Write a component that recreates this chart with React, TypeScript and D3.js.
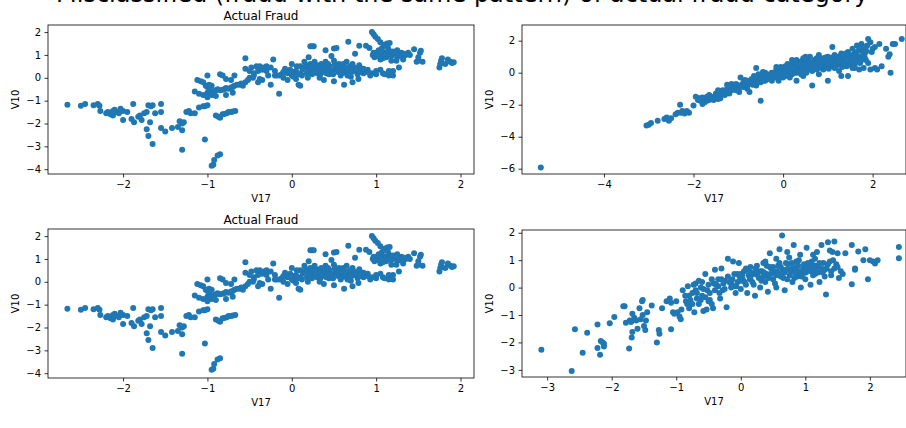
import React, { useEffect, useRef } from "react";
import * as d3 from "d3";

// Actual fraud cases (V17, V10), used in both left panels
const fraudPoints: [number, number][] = [
  [-2.66, -1.18], [-2.5, -1.22], [-2.45, -1.15], [-2.35, -1.2], [-2.3, -1.15], [-2.28, -1.22], [-2.27, -1.45],
  [-2.2, -1.55], [-2.15, -1.6], [-2.12, -1.45], [-2.1, -1.4], [-2.08, -1.5], [-2.05, -1.55], [-2.0, -1.45],
  [-2.03, -1.35], [-2.18, -1.5], [-2.12, -1.65], [-2.0, -1.85], [-1.95, -1.5], [-1.9, -1.8], [-1.88, -1.15],
  [-1.87, -1.95], [-1.82, -1.7], [-1.8, -1.65], [-1.78, -1.85], [-1.75, -1.55], [-1.72, -1.5], [-1.7, -1.2],
  [-1.67, -1.25], [-1.65, -1.2], [-1.62, -1.55], [-1.68, -1.95], [-1.72, -2.25], [-1.7, -2.55], [-1.65, -2.9],
  [-1.55, -1.15], [-1.55, -1.5], [-1.55, -2.2], [-1.5, -2.35], [-1.42, -2.2], [-1.35, -2.15], [-1.3, -2.0],
  [-1.33, -1.9], [-1.3, -2.3], [-1.3, -3.15], [-1.28, -1.95], [-1.25, -1.5], [-1.22, -1.45], [-1.2, -1.55],
  [-1.15, -1.55], [-1.1, -1.3], [-1.05, -1.25], [-1.03, -1.25], [-1.0, -1.2], [-1.03, -2.7],
  [-0.95, -3.85], [-0.93, -3.8], [-0.92, -3.6], [-0.88, -3.4], [-0.85, -3.35],
  [-0.9, -1.65], [-0.87, -1.7], [-0.85, -1.75], [-0.82, -1.6], [-0.8, -1.58], [-0.77, -1.55], [-0.75, -1.5],
  [-0.72, -1.5], [-0.7, -1.48], [-0.67, -1.45],
  [-1.15, -0.6], [-1.1, -0.7], [-1.05, -0.75], [-1.0, -0.65], [-0.98, -0.7], [-0.95, -0.62], [-0.92, -0.58],
  [-0.9, -0.55], [-0.88, -0.5], [-0.85, -0.55], [-0.82, -0.52], [-0.8, -0.5], [-0.78, -0.45], [-0.75, -0.48],
  [-0.72, -0.42], [-0.7, -0.4], [-0.68, -0.35], [-0.65, -0.3], [-0.62, -0.3], [-0.6, -0.25], [-0.58, -0.35],
  [-0.55, -0.2], [-1.12, -0.1], [-1.08, -0.15], [-1.05, -0.2], [-1.02, -0.35], [-1.0, -0.4], [-0.98, -0.45],
  [-0.95, -0.35], [-1.0, 0.1], [-0.98, -0.3], [-0.85, 0.15], [-0.82, 0.1], [-0.78, -0.05], [-0.72, -0.1],
  [-0.68, 0.1], [-0.7, -0.65], [-0.78, -0.75], [-0.9, -0.8], [-1.0, -0.85], [-0.95, -0.75],
  [-0.55, 0.85], [-0.55, 0.4], [-0.5, 0.3], [-0.48, 0.45], [-0.45, 0.2], [-0.42, 0.5], [-0.4, 0.3],
  [-0.38, 0.5], [-0.35, 0.35], [-0.33, 0.45], [-0.3, 0.3], [-0.3, 0.5], [-0.28, 0.1], [-0.35, -0.1],
  [-0.4, -0.2], [-0.45, 0.1], [-0.5, 0.0], [-0.52, -0.1], [-0.25, -0.3], [-0.22, 0.8], [-0.2, 0.1],
  [-0.18, 0.1], [-0.15, -0.7], [-0.12, 0.15], [-0.1, 0.0], [-0.08, 0.4], [-0.05, 0.2], [-0.05, -0.1],
  [0.0, 0.6], [0.02, 0.05], [0.05, -0.05], [0.05, 0.3], [0.07, 0.15], [0.08, -0.3], [0.1, 0.5], [0.1, -0.35],
  [0.12, 0.1], [0.15, 0.45], [0.15, 0.7], [0.18, 0.2], [0.2, 0.4], [0.2, 0.9], [0.22, 1.38], [0.24, 1.38],
  [0.26, 1.38], [0.22, 0.6], [0.25, 0.3], [0.25, 0.5], [0.27, 0.7], [0.28, 0.4], [0.3, 0.2], [0.3, 0.55],
  [0.32, 0.35], [0.33, 0.0], [0.35, 0.45], [0.35, 0.6], [0.37, 0.3], [0.38, -0.1], [0.4, 0.7], [0.4, 1.2],
  [0.42, 0.4], [0.44, 0.15], [0.45, 0.5], [0.47, 0.95], [0.48, 0.3], [0.5, 0.75], [0.5, -0.15], [0.52, 0.45],
  [0.5, 1.28], [0.53, 1.3], [0.55, 0.25], [0.56, 0.6], [0.58, 0.1], [0.6, 0.35], [0.62, -0.3], [0.62, 0.5],
  [0.65, 0.7], [0.65, 0.2], [0.67, 1.58], [0.68, 0.4], [0.7, 0.05], [0.72, 0.6], [0.72, -0.2], [0.75, 0.3],
  [0.75, 1.05], [0.78, 0.15], [0.8, 0.55], [0.8, 1.4], [0.83, 0.4], [0.85, 0.2], [0.88, 1.4], [0.9, 0.35],
  [0.92, 1.3], [0.93, 0.1], [0.95, 2.0], [0.97, 1.9], [0.99, 1.8], [1.02, 1.7], [1.05, 1.55], [0.96, 1.0],
  [0.98, 0.9], [1.0, 1.1], [1.0, 0.3], [1.03, 1.2], [1.05, 0.8], [1.05, 1.0], [1.07, 1.3], [1.08, 0.2],
  [1.1, 1.1], [1.1, 1.45], [1.12, 0.9], [1.13, 1.5], [1.15, 1.2], [1.15, 0.1], [1.17, 1.0], [1.18, 0.75],
  [1.2, 1.15], [1.2, 0.3], [1.22, 1.05], [1.25, 0.9], [1.25, 1.2], [1.27, 0.45], [1.3, 1.1], [1.32, 0.8],
  [1.35, 1.0], [1.38, 1.1], [1.4, 1.0], [1.45, 1.25], [1.48, 0.7], [1.5, 0.75], [1.52, 1.1], [1.53, 1.18],
  [1.55, 0.7], [1.5, 0.9], [1.75, 0.45], [1.76, 0.6], [1.77, 0.75], [1.78, 0.85], [1.82, 0.6], [1.85, 0.8],
  [1.88, 0.7], [1.9, 0.65], [1.92, 0.68], [1.16, 1.52],
  [0.02, 0.25], [0.06, 0.5], [0.1, 0.2], [0.13, 0.35], [0.17, 0.55], [0.19, 0.0], [0.21, 0.25], [0.23, 0.45],
  [0.24, 0.15], [0.26, 0.55], [0.29, 0.3], [0.31, 0.45], [0.34, 0.15], [0.36, 0.25], [0.39, 0.5], [0.41, 0.2],
  [0.43, 0.6], [0.46, 0.35], [0.49, 0.15], [0.51, 0.6], [0.54, 0.35], [0.57, 0.45], [0.59, 0.2], [0.61, 0.6],
  [0.63, 0.3], [0.66, 0.1], [0.69, 0.5], [0.71, 0.25], [0.74, 0.45], [0.77, 0.35], [0.79, -0.05], [0.82, 0.25],
  [0.85, 0.4], [0.88, 0.3], [0.9, 0.25], [0.95, 0.2], [1.0, 0.15], [1.05, 0.35], [1.1, 0.15], [1.15, 0.3],
  [1.2, 0.1], [0.97, 1.1], [1.02, 0.95], [1.06, 1.15], [1.08, 0.85], [1.12, 1.05], [1.14, 1.3], [1.18, 0.95],
  [1.23, 1.1], [1.27, 1.0], [1.3, 0.95], [1.33, 1.05], [1.24, 0.75],
  [-0.2, 0.3], [-0.15, 0.1], [-0.1, 0.25], [-0.02, 0.35], [0.0, 0.1], [-0.25, 0.45], [-0.38, -0.05], [-0.46, 0.0],
];

// Top right panel
const upperRightPoints: [number, number][] = [
  [-5.41, -5.92],
  [-3.05, -3.3], [-3.0, -3.25], [-2.95, -3.15], [-2.8, -3.0], [-2.65, -2.9], [-2.6, -2.8], [-2.55, -3.0],
  [-2.5, -2.85], [-2.4, -2.6], [-2.35, -2.5], [-2.3, -2.0], [-2.28, -2.5], [-2.25, -2.4], [-2.2, -2.55],
  [-2.15, -2.4], [-2.1, -2.5], [-2.0, -2.05], [-1.95, -1.5], [-1.9, -1.6], [-1.85, -1.75], [-1.8, -1.55],
  [-1.8, -1.95], [-1.75, -1.85], [-1.7, -1.5], [-1.65, -1.7], [-1.6, -1.6], [-1.55, -1.7], [-1.5, -1.5],
  [-1.45, -1.65], [-1.4, -1.6], [-1.35, -1.3], [-1.3, -1.4], [-1.25, -1.25], [-1.2, -1.3], [-1.15, -0.7],
  [-1.1, -1.0], [-1.05, -0.9], [-1.0, -0.8], [-0.98, -1.2], [-0.95, -0.3], [-0.9, -0.7], [-0.85, -0.9],
  [-0.8, -1.0], [-0.8, -0.5], [-0.75, -1.2], [-0.7, -0.6], [-0.65, -0.4], [-0.6, -0.8], [-0.6, 0.3],
  [-0.55, -0.3], [-0.5, -1.75], [-0.5, -0.6], [-0.45, -0.2], [-0.4, 0.0], [-0.4, -0.5], [-0.35, -0.2],
  [-0.3, -0.4], [-0.25, 0.0], [-0.2, -0.3], [-0.15, 0.2], [-0.1, -0.1], [-0.1, -0.5], [-0.05, 0.1],
  [0.0, -0.3], [0.0, 0.3], [0.05, 0.4], [0.05, -0.2], [0.1, 0.0], [0.15, 0.5], [0.15, -0.3], [0.2, 0.2],
  [0.2, 0.8], [0.25, 0.0], [0.3, 0.5], [0.3, -0.5], [0.35, 0.3], [0.4, 0.7], [0.4, 0.1], [0.45, -0.2],
  [0.45, 0.9], [0.5, 0.4], [0.55, 0.6], [0.6, 0.2], [0.6, 1.0], [0.65, -0.8], [0.65, 0.5], [0.7, 0.8],
  [0.7, 0.3], [0.75, 0.6], [0.8, 1.1], [0.8, -0.1], [0.85, 0.5], [0.9, 0.9], [0.9, 0.2], [0.95, 0.7],
  [1.0, 1.0], [1.0, -0.5], [1.05, 0.4], [1.1, 0.8], [1.1, 1.6], [1.15, 0.3], [1.2, 1.0], [1.2, 0.6],
  [1.25, 0.1], [1.3, 1.2], [1.3, -0.2], [1.35, 0.7], [1.4, 1.0], [1.45, -0.2], [1.45, 1.3], [1.5, 0.5],
  [1.55, 1.5], [1.55, 0.9], [1.6, 0.3], [1.6, 1.2], [1.65, 1.7], [1.7, 0.9], [1.75, 1.8], [1.75, 1.4],
  [1.8, 0.3], [1.85, 0.8], [1.85, 1.3], [1.9, 2.1], [1.95, 1.9], [1.95, 0.2], [2.0, 1.5], [2.05, 1.6],
  [2.05, 0.3], [2.1, 0.2], [2.15, 1.8], [2.35, 1.0], [2.38, 1.15], [2.4, 0.0], [2.45, 1.8], [2.5, 1.8],
  [2.65, 2.1], [1.85, 1.4], [1.7, 0.2],
  [-1.9, -1.7], [-1.85, -1.6], [-1.75, -1.65], [-1.7, -1.75], [-1.6, -1.5], [-1.5, -1.3], [-1.45, -1.4],
  [-1.4, -1.2], [-1.35, -1.1], [-1.3, -1.2], [-1.25, -1.0], [-1.2, -0.9], [-1.15, -1.1], [-1.1, -0.8],
  [-1.05, -0.7], [-1.0, -1.0], [-0.95, -0.8], [-0.9, -0.9], [-0.88, -0.6], [-0.85, -0.7], [-0.8, -0.8],
  [-0.75, -0.5], [-0.7, -0.4], [-0.68, -0.75], [-0.65, -0.6], [-0.6, -0.5], [-0.55, -0.6], [-0.55, -0.1],
  [-0.5, -0.3], [-0.48, -0.4], [-0.45, -0.5], [-0.4, -0.3], [-0.38, -0.1], [-0.35, -0.4], [-0.3, -0.1],
  [-0.28, -0.25], [-0.25, -0.2], [-0.2, 0.0], [-0.18, -0.15], [-0.15, -0.3], [-0.1, 0.1], [-0.08, -0.05],
  [-0.05, -0.2], [0.0, 0.05], [0.02, -0.1], [0.05, 0.15], [0.08, 0.25], [0.1, 0.35], [0.12, -0.15],
  [0.15, 0.1], [0.18, 0.4], [0.2, -0.1], [0.22, 0.3], [0.25, 0.5], [0.28, 0.2], [0.3, 0.0], [0.32, 0.6],
  [0.35, 0.15], [0.38, 0.45], [0.4, -0.1], [0.42, 0.3], [0.45, 0.55], [0.48, 0.2], [0.5, 0.7], [0.52, 0.0],
  [0.55, 0.35], [0.58, 0.5], [0.6, 0.65], [0.62, 0.4], [0.65, 0.1], [0.68, 0.55], [0.7, 0.75], [0.72, 0.45],
  [0.75, 0.2], [0.78, 0.65], [0.8, 0.4], [0.82, 0.85], [0.85, 0.3], [0.88, 0.6], [0.9, 0.45], [0.92, 0.75],
  [0.95, 0.35], [0.98, 0.55], [1.0, 0.8], [1.02, 0.25], [1.05, 0.65], [1.08, 0.45], [1.1, 0.95], [1.12, 0.55],
  [1.15, 0.75], [1.18, 0.4], [1.2, 0.85], [1.22, 0.6], [1.25, 1.0], [1.28, 0.5], [1.3, 0.8], [1.32, 0.35],
  [1.35, 0.95], [1.38, 0.6], [1.4, 1.2], [1.42, 0.4], [1.48, 0.8], [1.5, 1.1], [1.52, 0.65], [1.58, 1.0],
  [1.62, 0.7], [1.65, 1.3], [1.68, 1.0], [1.72, 0.6], [1.78, 1.1], [1.8, 1.6], [1.82, 1.0], [1.88, 1.7],
  [1.9, 0.6], [1.98, 1.3], [2.2, 0.4], [2.3, 1.5],
  [0.25, 0.3], [0.35, 0.55], [0.45, 0.35], [0.55, 0.8], [0.65, 0.3], [0.75, 0.9], [0.85, 0.7], [0.95, 0.95],
  [1.05, 0.85], [1.15, 1.1], [1.25, 0.7], [1.35, 1.1], [1.45, 0.6], [1.55, 0.3], [1.6, 0.5], [1.7, 1.5],
  [1.75, 0.8], [0.1, 0.55], [-0.15, 0.35], [-0.25, -0.5], [-0.45, 0.05], [-0.65, -0.2], [-0.85, -0.45],
  [-1.05, -1.1], [-1.25, -0.75], [-1.45, -1.1], [-1.65, -1.4], [-0.05, 0.35], [0.3, 0.8], [0.5, 1.0],
];

// Bottom right panel
const lowerRightPoints: [number, number][] = [
  [-3.09, -2.27], [-2.62, -3.04], [-2.57, -1.52], [-2.45, -2.38], [-2.38, -1.65], [-2.22, -1.35], [-2.22, -2.2],
  [-2.18, -2.45], [-2.17, -1.95], [-2.14, -2.0], [-2.12, -2.15], [-2.12, -2.05], [-2.03, -1.3], [-1.96, -1.07],
  [-1.82, -0.68], [-1.8, -0.68], [-1.78, -1.28], [-1.73, -2.22], [-1.72, -1.2], [-1.7, -1.25], [-1.69, -1.82],
  [-1.68, -0.95], [-1.68, -1.62], [-1.65, -1.1], [-1.62, -1.2], [-1.6, -1.5], [-1.57, -0.75], [-1.55, -1.15],
  [-1.53, -0.5], [-1.52, -0.45], [-1.52, -1.0], [-1.5, -1.4], [-1.48, -1.55], [-1.47, -1.2], [-1.45, -0.9],
  [-1.38, -0.65], [-1.27, -1.55], [-1.26, -1.68], [-1.3, -2.0], [-1.22, -0.75], [-1.15, -0.5], [-1.1, -0.4],
  [-1.08, -0.55], [-1.08, -1.52], [-1.05, -0.9], [-1.03, -0.95], [-1.0, -0.5], [-0.98, -0.9], [-0.95, -1.05],
  [-0.93, -1.15], [-0.92, -0.8], [-0.9, -0.1], [-0.85, -0.5], [-0.83, -0.6], [-0.8, -0.3], [-0.8, -0.75],
  [-0.78, -0.45], [-0.75, -0.2], [-0.73, 0.1], [-0.72, -0.9], [-0.7, 0.15], [-0.68, -0.4], [-0.65, -0.6],
  [-0.62, 0.0], [-0.6, -0.3], [-0.58, -0.85], [-0.55, 0.5], [-0.53, -0.8], [-0.52, -0.1], [-0.5, -0.5],
  [-0.48, -0.2], [-0.45, 0.3], [-0.43, -0.75], [-0.4, 0.65], [-0.38, 0.1], [-0.35, 0.3], [-0.32, -0.4],
  [-0.3, 0.7], [-0.28, -0.1], [-0.25, 0.25], [-0.22, -0.72], [-0.2, 1.05], [-0.18, 0.2], [-0.15, 0.0],
  [-0.12, 0.95], [-0.1, 0.5], [-0.08, -0.2], [-0.05, 0.2], [-0.03, 0.9], [0.0, 0.5], [0.0, -0.05], [0.03, 0.3],
  [0.05, 0.6], [0.08, 0.1], [0.1, -0.2], [0.12, 0.45], [0.15, 0.75], [0.18, 0.2], [0.2, 0.5], [0.22, -0.3],
  [0.25, 0.8], [0.28, 0.35], [0.3, 0.0], [0.33, 0.6], [0.35, 0.9], [0.38, 0.2], [0.4, 0.5], [0.42, -0.15],
  [0.45, 1.25], [0.47, 0.7], [0.5, 0.3], [0.52, 0.55], [0.55, 0.0], [0.58, 0.8], [0.6, 1.4], [0.62, 0.4],
  [0.64, 1.9], [0.65, 0.65], [0.68, -0.1], [0.7, 0.9], [0.72, 0.3], [0.75, 1.1], [0.78, 0.6], [0.8, 0.2],
  [0.82, 1.55], [0.85, 0.75], [0.88, 0.4], [0.9, 1.0], [0.93, 0.0], [0.95, 0.6], [0.98, 0.85], [1.0, 0.3],
  [1.02, 1.45], [1.05, 0.7], [1.08, 0.1], [1.1, 0.95], [1.12, 1.2], [1.15, 0.5], [1.18, 1.3], [1.2, 0.75],
  [1.22, 0.2], [1.25, 1.55], [1.28, 0.9], [1.3, 0.4], [1.32, -0.25], [1.35, 1.65], [1.38, 1.35], [1.4, 0.6],
  [1.42, 1.3], [1.45, 1.68], [1.48, 0.85], [1.5, 1.25], [1.52, 0.35], [1.55, 0.6], [1.58, 0.5], [1.62, 1.25],
  [1.72, 1.55], [1.72, 0.12], [1.77, 0.7], [1.77, 0.65], [1.82, 1.32], [1.9, 1.0], [1.93, 1.4], [1.97, 0.3],
  [2.0, 1.0], [2.05, 0.95], [2.08, 0.88], [2.12, 1.0], [2.45, 1.48], [2.45, 1.07],
  [0.02, 0.45], [0.06, 0.2], [0.1, 0.65], [0.14, 0.3], [0.16, 0.55], [0.2, 0.1], [0.23, 0.7], [0.26, 0.45],
  [0.3, 0.6], [0.32, 0.25], [0.36, 0.55], [0.4, 0.8], [0.43, 0.35], [0.46, 0.5], [0.5, 0.75], [0.53, 0.15],
  [0.56, 0.6], [0.6, 0.9], [0.63, 0.5], [0.66, 0.35], [0.7, 0.65], [0.73, 0.85], [0.76, 0.45], [0.8, 0.7],
  [0.83, 0.35], [0.86, 0.95], [0.9, 0.6], [0.94, 0.4], [0.97, 0.7], [1.01, 0.55], [1.04, 0.9], [1.08, 0.6],
  [1.12, 0.45], [1.16, 0.8], [1.2, 0.55], [1.25, 0.7], [1.3, 0.65], [1.35, 0.85], [1.4, 0.45], [1.45, 0.7],
  [-0.6, 0.2], [-0.7, -0.1], [-0.65, 0.25], [-0.55, -0.35], [-0.5, 0.1], [-0.45, -0.6], [-0.4, -0.1],
  [-0.35, 0.05], [-0.3, 0.3], [-0.25, -0.05], [-0.2, 0.4], [-0.15, 0.15], [-0.1, 0.05], [-0.05, 0.5], [0.0, 0.25],
  [0.25, 0.6], [0.35, 0.4], [0.45, 0.75], [0.55, 0.45], [0.62, 0.75], [0.68, 0.55], [0.74, 0.65], [0.79, 0.9],
  [0.84, 0.55], [0.89, 0.8], [0.96, 0.5], [1.03, 0.75], [1.09, 0.8], [1.14, 0.65], [1.22, 0.9], [1.27, 0.55],
  [1.33, 0.7], [1.38, 0.95], [1.43, 1.0], [1.5, 0.75], [0.15, 0.35], [0.08, 0.7], [-0.02, 0.4], [-0.07, 0.05],
  [-0.13, 0.3], [-0.27, 0.15], [-0.33, -0.2], [-0.42, 0.15], [-0.48, -0.45], [-0.58, -0.05], [-0.62, -0.45],
  [-0.68, -0.2], [-0.75, -0.6], [-0.82, 0.05], [-0.86, -0.3], [0.55, 1.05], [0.72, 1.3], [0.92, 1.2],
  [1.15, 1.05], [0.38, 0.95],
];

const leftXTicks = [-2, -1, 0, 1, 2];
const leftYTicks = [-4, -3, -2, -1, 0, 1, 2];
const upperRightXTicks = [-4, -2, 0, 2];
const upperRightYTicks = [-6, -4, -2, 0, 2];
const lowerRightXTicks = [-3, -2, -1, 0, 1, 2];
const lowerRightYTicks = [-3, -2, -1, 0, 1, 2];

const FONT = "DejaVu Sans, sans-serif";
const fmt = d3.format("d");

function drawPanel(svg, opts) {
  const { data, left, right, top, bottom, xDomain, yDomain, xTicks, yTicks, title } = opts;
  const x = d3.scaleLinear().domain(xDomain).range([left, right]);
  const y = d3.scaleLinear().domain(yDomain).range([bottom, top]);
  const g = svg.append("g");

  g.selectAll("circle")
    .data(data)
    .enter()
    .append("circle")
    .attr("cx", d => x(d[0]))
    .attr("cy", d => y(d[1]))
    .attr("r", 3)
    .attr("fill", "#1f77b4");

  const xAxis = g.append("g")
    .attr("transform", `translate(0, ${bottom})`)
    .call(d3.axisBottom(x).tickValues(xTicks).tickFormat(fmt).tickSize(3.5).tickPadding(3.5).tickSizeOuter(0));
  const yAxis = g.append("g")
    .attr("transform", `translate(${left}, 0)`)
    .call(d3.axisLeft(y).tickValues(yTicks).tickFormat(fmt).tickSize(3.5).tickPadding(3.5).tickSizeOuter(0));

  [xAxis, yAxis].forEach(a => {
    a.select(".domain").remove();
    a.selectAll("line").attr("stroke", "#000").attr("stroke-width", 0.8);
    a.selectAll("text").attr("font-family", FONT).attr("font-size", 10).attr("fill", "#000");
  });

  g.append("rect")
    .attr("x", left)
    .attr("y", top)
    .attr("width", right - left)
    .attr("height", bottom - top)
    .attr("fill", "none")
    .attr("stroke", "#000")
    .attr("stroke-width", 0.8);

  g.append("text")
    .attr("x", (left + right) / 2)
    .attr("y", bottom + 28)
    .attr("text-anchor", "middle")
    .attr("font-family", FONT)
    .attr("font-size", 10)
    .text("V17");

  g.append("text")
    .attr("transform", `translate(${left - 29}, ${(top + bottom) / 2}) rotate(-90)`)
    .attr("text-anchor", "middle")
    .attr("font-family", FONT)
    .attr("font-size", 10)
    .text("V10");

  if (title) {
    g.append("text")
      .attr("x", (left + right) / 2)
      .attr("y", top - 5)
      .attr("text-anchor", "middle")
      .attr("font-family", FONT)
      .attr("font-size", 12)
      .text(title);
  }
}

export default function App() {
  const ref = useRef(null);

  useEffect(() => {
    const svg = d3.select(ref.current);
    svg.selectAll("*").remove();

    // heading that the picture cuts off at its top edge
    svg.append("text")
      .attr("x", 56)
      .attr("y", 2)
      .attr("font-family", FONT)
      .attr("font-size", 24)
      .attr("fill", "#000")
      .text("Misclassified (fraud with the same pattern) of actual fraud category");

    drawPanel(svg, {
      data: fraudPoints, left: 48, right: 474, top: 25, bottom: 174,
      xDomain: [-2.89, 2.16], yDomain: [-4.21, 2.31],
      xTicks: leftXTicks, yTicks: leftYTicks, title: "Actual Fraud"
    });
    drawPanel(svg, {
      data: upperRightPoints, left: 522, right: 906, top: 25, bottom: 174,
      xDomain: [-5.83, 2.745], yDomain: [-6.33, 2.98],
      xTicks: upperRightXTicks, yTicks: upperRightYTicks
    });
    drawPanel(svg, {
      data: fraudPoints, left: 48, right: 474, top: 229, bottom: 378,
      xDomain: [-2.89, 2.16], yDomain: [-4.21, 2.31],
      xTicks: leftXTicks, yTicks: leftYTicks, title: "Actual Fraud"
    });
    drawPanel(svg, {
      data: lowerRightPoints, left: 522, right: 906, top: 230, bottom: 377,
      xDomain: [-3.39, 2.56], yDomain: [-3.26, 2.1],
      xTicks: lowerRightXTicks, yTicks: lowerRightYTicks
    });
  }, []);

  return (
    <svg
      ref={ref}
      width={906}
      height={428}
      style={{ position: "absolute", left: 0, top: 0, background: "#fff" }}
    />
  );
}
